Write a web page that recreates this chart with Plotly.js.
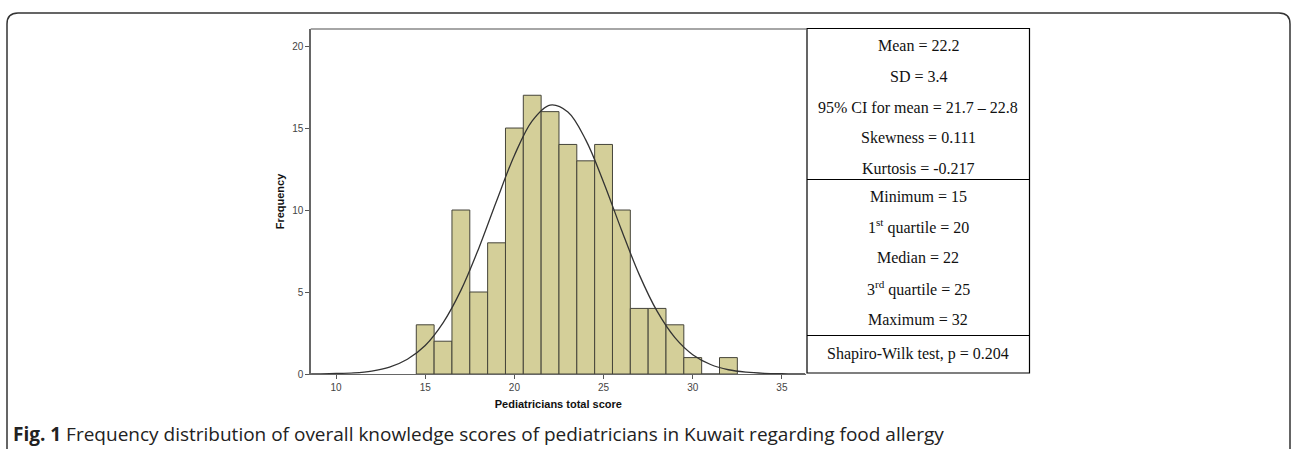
<!DOCTYPE html>
<html>
<head>
<meta charset="utf-8">
<script src="https://cdn.plot.ly/plotly-3.0.1.min.js"></script>
<style>html,body{margin:0;padding:0;background:#fff;}#chart{width:1292px;height:449px;}</style>
</head>
<body>
<div id="chart"></div>
<script>
// Histogram data: total score -> number of pediatricians
const scores = [15, 16, 17, 18, 19, 20, 21, 22, 23, 24, 25, 26, 27, 28, 29, 30, 31, 32];
const counts = [3, 2, 10, 5, 8, 15, 17, 16, 14, 13, 14, 10, 4, 4, 3, 1, 0, 1];

// Fitted normal curve
const curveX = [8.6, 9, 10, 11, 12, 13, 14, 15, 16, 17, 18, 19, 20, 21, 22, 23, 24, 25, 26, 27, 28, 29, 30, 31, 32, 33, 34, 35, 36, 36.3];
const curveY = [0.005, 0.01, 0.03, 0.07, 0.18, 0.42, 0.9, 1.74, 3.12, 5.1, 7.66, 10.55, 13.33, 15.44, 16.4, 15.98, 14.28, 11.7, 8.8, 6.06, 3.83, 2.22, 1.18, 0.58, 0.26, 0.11, 0.04, 0.014, 0.004, 0.003];

const xTicks = [10, 15, 20, 25, 30, 35];
const yTicks = [0, 5, 10, 15, 20];

const statsTop = ["Mean = 22.2", "SD = 3.4", "95% CI for mean = 21.7 \u2013 22.8", "Skewness = 0.111", "Kurtosis = -0.217"];
const statsMid = ["Minimum = 15", "1<sup>st</sup> quartile = 20", "Median = 22", "3<sup>rd</sup> quartile = 25", "Maximum = 32"];
const statsBot = ["Shapiro-Wilk test, p = 0.204"];

const captionBold = "Fig. 1";
const captionText = " Frequency distribution of overall knowledge scores of pediatricians in Kuwait regarding food allergy";

const W = 1292, H = 449;
const px = x => x / W;
const py = y => 1 - y / H;

// plot area pixels
const L = 310.7, R = 806, T = 29, B = 374;

const traces = [
  {
    type: 'bar', x: scores, y: counts, width: 1,
    marker: {color: '#d4cf99', line: {color: '#45443a', width: 1}},
    hoverinfo: 'x+y', showlegend: false
  },
  {
    type: 'scatter', mode: 'lines', x: curveX, y: curveY,
    line: {color: '#333333', width: 1.3, shape: 'spline', smoothing: 1},
    hoverinfo: 'skip', showlegend: false
  }
];

const serif = 'Liberation Serif, Times New Roman, serif';
const annotations = [];
const rowYTop = [45, 76, 107, 137.5, 168];
const rowYMid = [196.5, 226, 257, 288, 319];
const rowYBot = [354];
const tableCx = (807 + 1029) / 2;
function addRows(list, ys) {
  list.forEach((t, i) => {
    annotations.push({
      xref: 'paper', yref: 'paper', x: px(tableCx), y: py(ys[i]),
      xanchor: 'center', yanchor: 'middle', showarrow: false,
      text: t, font: {family: serif, size: 16, color: '#111'}
    });
  });
}
addRows(statsTop, rowYTop);
addRows(statsMid, rowYMid);
addRows(statsBot, rowYBot);

annotations.push({
  xref: 'paper', yref: 'paper', x: px(11), y: py(434),
  xanchor: 'left', yanchor: 'middle', showarrow: false,
  text: '<b>' + captionBold + '</b>' + captionText,
  font: {family: 'Open Sans, sans-serif', size: 19, color: '#222'}
});

function pth(pts) {
  return pts.map((p, i) => (i === 0 ? 'M ' : p[2] ? 'Q ' : 'L ') + (p[2] ? (px(p[0]) + ',' + py(p[1]) + ' ' + px(p[2]) + ',' + py(p[3])) : (px(p[0]) + ',' + py(p[1])))).join(' ');
}
const borderPath = pth([[7, 452], [7, 24], [7, 13, 18, 13], [1279, 13], [1290, 13, 1290, 24], [1290, 452]]);

const shapes = [
  {type: 'path', xref: 'paper', yref: 'paper', path: borderPath, line: {color: '#333', width: 1.5}},
  {type: 'rect', xref: 'paper', yref: 'paper', x0: px(807), x1: px(1029.5), y0: py(28.5), y1: py(373), line: {color: '#000', width: 1.2}, fillcolor: 'rgba(0,0,0,0)'},
  {type: 'line', xref: 'paper', yref: 'paper', x0: px(807), x1: px(1029.5), y0: py(179.5), y1: py(179.5), line: {color: '#000', width: 1.2}},
  {type: 'line', xref: 'paper', yref: 'paper', x0: px(807), x1: px(1029.5), y0: py(335.5), y1: py(335.5), line: {color: '#000', width: 1.2}}
];

const axisFont = {family: 'Liberation Sans, Arial, sans-serif', size: 10, color: '#444'};
const titleFont = {family: 'Liberation Sans, Arial, sans-serif', size: 11, color: '#111', weight: 'bold'};

const layout = {
  width: W, height: H,
  margin: {l: 0, r: 0, t: 0, b: 0},
  paper_bgcolor: '#fff', plot_bgcolor: '#fff',
  bargap: 0,
  showlegend: false,
  xaxis: {
    domain: [px(L), px(R)], range: [8.58, 36.35],
    tickvals: xTicks, ticktext: xTicks.map(String),
    ticks: 'outside', ticklen: 4, tickcolor: '#555',
    showline: true, linecolor: '#666', linewidth: 1.3, mirror: false,
    showgrid: false, zeroline: false, tickfont: axisFont,
    title: {text: '<b>Pediatricians total score</b>', font: titleFont, standoff: 8},
    fixedrange: true
  },
  yaxis: {
    domain: [py(B), py(T)], range: [0, 21.04],
    tickvals: yTicks, ticktext: yTicks.map(String),
    ticks: 'outside', ticklen: 4, tickcolor: '#555',
    showline: true, linecolor: '#666', linewidth: 1.3,
    showgrid: false, zeroline: false, tickfont: axisFont,
    title: {text: '<b>Frequency</b>', font: titleFont, standoff: 5},
    fixedrange: true
  },
  shapes: shapes.concat([
    {type: 'line', xref: 'paper', yref: 'paper', x0: px(L), x1: px(R), y0: py(T), y1: py(T), line: {color: '#888', width: 1.5}}
  ]),
  annotations: annotations
};

Plotly.newPlot('chart', traces, layout, {displayModeBar: false, staticPlot: true});
</script>
</body>
</html>
